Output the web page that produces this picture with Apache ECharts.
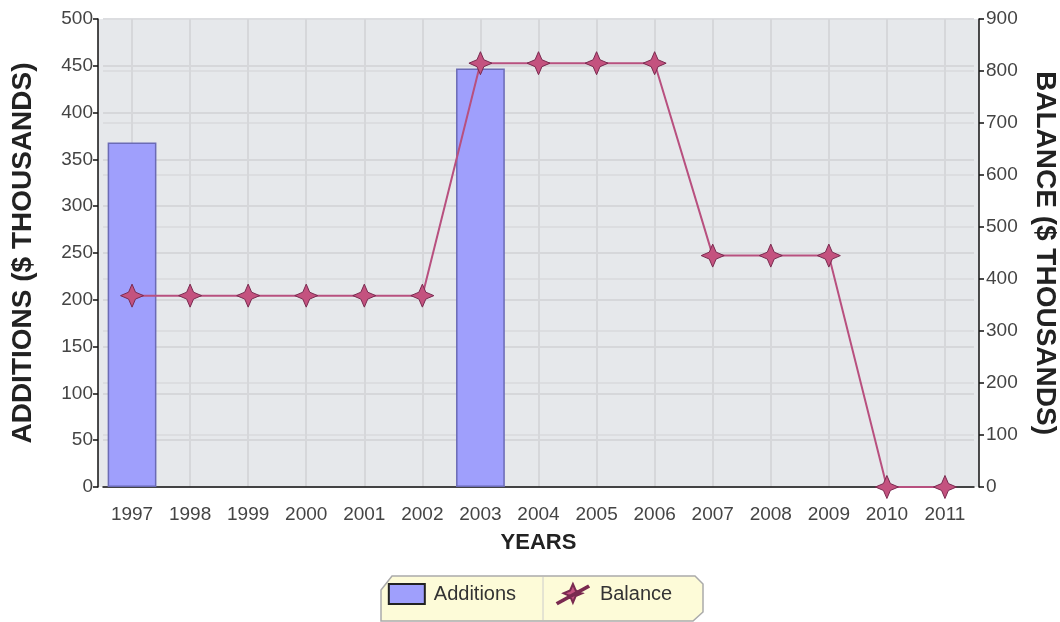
<!DOCTYPE html>
<html>
<head>
<meta charset="utf-8">
<style>
  html, body { margin: 0; padding: 0; background: #fff; }
  #chart { width: 1060px; height: 622px; }
</style>
<script src="https://cdn.jsdelivr.net/npm/echarts@6/dist/echarts.min.js"></script>
</head>
<body>
<div id="chart"></div>
<script>
// 数据
const years = ["1997", "1998", "1999", "2000", "2001", "2002", "2003", "2004", "2005", "2006", "2007", "2008", "2009", "2010", "2011"];
// 没有新增的年份不画柱子
const additions = [368, null, null, null, null, null, 447, null, null, null, null, null, null, null, null];
const balance = [368, 368, 368, 368, 368, 368, 815, 815, 815, 815, 445, 445, 445, 0, 0];

const starPath = 'path://M0,-10 L3,-3 L10,0 L3,3 L0,10 L-3,3 L-10,0 L-3,-3 Z';
// 图例里的星形带一条斜线
const starLinePath = 'path://M0,-10 L3,-3 L10,0 L3,3 L0,10 L-3,3 L-10,0 L-3,-3 Z M-17,10 L16,-8 L17,-6.5 L-16,11.5 Z';
const tickFont = '"Liberation Sans", Arial, sans-serif';

(function () {
	let myChart = echarts.init(document.getElementById('chart'));
	const option = {
		animation: false,
		grid: {
			left: 103,
			right: 86,
			top: 19,
			bottom: 135,
			outerBoundsMode: 'none',
			containLabel: false
		},
		legend: {
			bottom: 12,
			left: 'center',
			itemGap: 40,
			itemWidth: 36,
			itemHeight: 20,
			textStyle: { fontSize: 20, color: '#333', fontFamily: tickFont, padding: [0, 0, 0, 4] },
			data: [
				{ name: 'Additions', icon: 'rect', itemStyle: { borderColor: '#222', borderWidth: 2 } },
				{ name: 'Balance', icon: starLinePath }
			]
		},
		graphic: [
			// 绘图区背景
			{
				type: 'rect',
				z: -10,
				shape: { x: 98, y: 19, width: 881, height: 468 },
				style: { fill: '#e6e8eb' }
			},
			// 图例背景框
			{
				type: 'polygon',
				z: -1,
				shape: { points: [[392, 576], [695, 576], [703, 584], [703, 612], [693, 621], [381, 621], [381, 590]] },
				style: { fill: '#fdfbd8', stroke: '#aaa', lineWidth: 1.5 }
			},
			{
				type: 'line',
				z: -1,
				shape: { x1: 543, y1: 577, x2: 543, y2: 620 },
				style: { stroke: '#ccc', lineWidth: 1 }
			}
		],
		xAxis: {
			type: 'category',
			data: years,
			name: 'YEARS',
			nameLocation: 'middle',
			nameGap: 45,
			nameTextStyle: { fontSize: 22, fontWeight: 'bold', color: '#222', fontFamily: 'Liberation Sans, Arial' },
			axisLine: { lineStyle: { color: '#111', width: 1.5 } },
			axisTick: { alignWithLabel: true, length: 6, lineStyle: { color: '#111', width: 1.5 } },
			axisLabel: { interval: 0, fontSize: 19, color: '#444', margin: 18, fontFamily: tickFont },
			splitLine: { show: true, alignWithLabel: true, lineStyle: { color: '#d6d7da', width: 2 } }
		},
		yAxis: [
			{
				type: 'value',
				min: 0,
				max: 500,
				interval: 50,
				offset: 5,
				name: 'ADDITIONS ($ THOUSANDS)',
				nameLocation: 'middle',
				nameGap: 61,
				nameTextStyle: { fontSize: 28, fontWeight: 'bold', color: '#222', fontFamily: 'Liberation Sans, Arial' },
				axisLine: { show: true, lineStyle: { color: '#111', width: 1.5 } },
				axisTick: { show: true, length: 5, lineStyle: { color: '#111', width: 1.5 } },
				axisLabel: { fontSize: 19, color: '#444', margin: 5, fontFamily: tickFont },
				splitLine: { lineStyle: { color: '#d6d7da', width: 2 } }
			},
			{
				type: 'value',
				min: 0,
				max: 900,
				interval: 100,
				offset: 5,
				name: 'BALANCE ($ THOUSANDS)',
				nameLocation: 'middle',
				nameGap: 52,
				nameRotate: -90,
				nameTextStyle: { fontSize: 28, fontWeight: 'bold', color: '#222', fontFamily: 'Liberation Sans, Arial' },
				axisLine: { show: true, lineStyle: { color: '#111', width: 1.5 } },
				axisTick: { show: true, length: 5, lineStyle: { color: '#111', width: 1.5 } },
				axisLabel: { fontSize: 19, color: '#444', margin: 7, fontFamily: tickFont },
				splitLine: { show: true, lineStyle: { color: '#dcdde0', width: 2 } }
			}
		],
		series: [
			{
				name: 'Additions',
				type: 'bar',
				yAxisIndex: 0,
				barWidth: '84%',
				data: additions,
				itemStyle: { color: '#9f9ffc', borderColor: '#6b6bb5', borderWidth: 1.5 }
			},
			{
				name: 'Balance',
				type: 'line',
				yAxisIndex: 1,
				data: balance,
				symbol: starPath,
				symbolSize: 23,
				lineStyle: { color: '#b8507f', width: 2 },
				itemStyle: { color: '#c4527f', borderColor: '#7a2a50', borderWidth: 1 }
			}
		]
	};
	myChart.setOption(option);
})();
</script>
</body>
</html>
